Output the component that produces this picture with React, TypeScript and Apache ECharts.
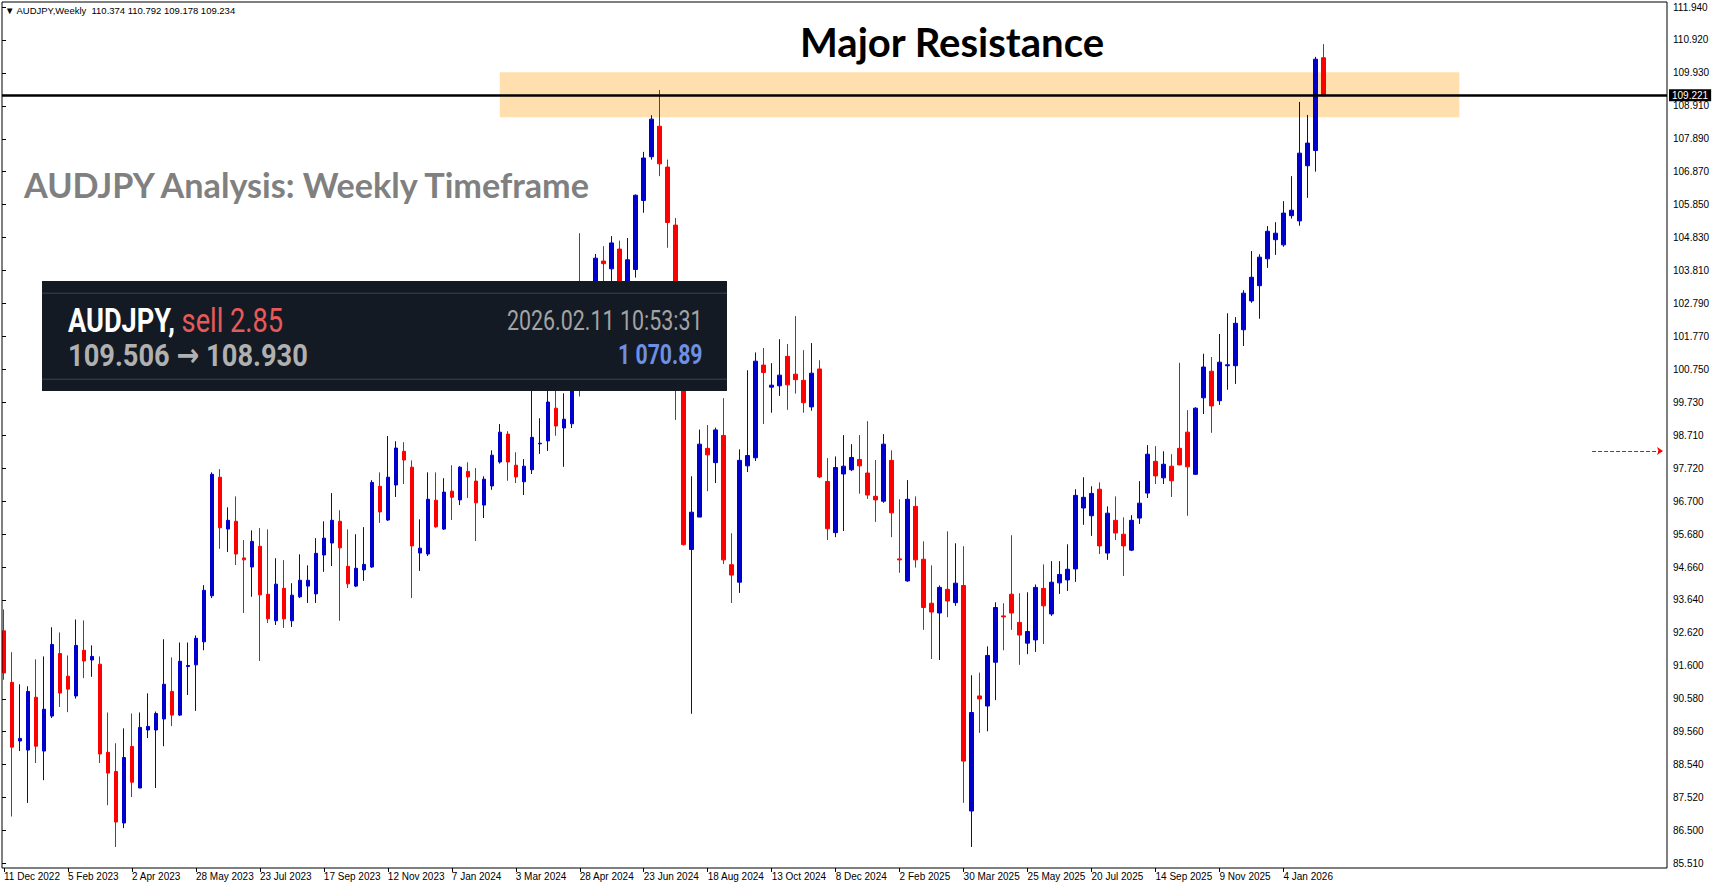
import React, { useEffect, useRef } from 'react';
import * as echarts from 'echarts';

// ---------------- DATA ----------------
const START_WEEK = Date.UTC(2022, 11, 11); // first bar: 11 Dec 2022
const TOTAL_SLOTS = 208; // bars + empty space on the right
const MONTHS = ['Jan', 'Feb', 'Mar', 'Apr', 'May', 'Jun', 'Jul', 'Aug', 'Sep', 'Oct', 'Nov', 'Dec'];

const opens = [
  92.69, 91.10, 89.29, 89.01, 90.64, 88.98, 90.06, 91.99, 91.29, 90.68,
  92.09, 91.79, 91.66, 88.94, 88.35, 86.76, 89.12, 87.84, 89.63, 89.63,
  89.97, 90.82, 90.09, 91.59, 91.64, 92.35, 93.77, 97.43, 95.83, 96.07,
  94.94, 94.66, 95.30, 93.82, 93.00, 94.00, 93.00, 93.74, 94.07, 93.83,
  95.03, 95.40, 96.07, 94.68, 94.07, 94.57, 94.66, 97.15, 96.11, 97.19,
  98.23, 97.74, 95.09, 95.06, 96.72, 95.83, 97.00, 96.73, 97.61, 97.31,
  96.57, 97.16, 97.90, 98.76, 97.80, 97.29, 97.66, 98.46, 98.55, 99.56,
  98.95, 99.08, 103.30, 101.00, 102.90, 104.10, 103.86, 104.47, 103.30, 103.84,
  105.97, 107.32, 108.26, 107.00, 105.21, 101.20, 95.20, 96.20, 98.32, 97.88,
  98.72, 94.73, 94.19, 97.78, 98.03, 100.89, 100.21, 100.25, 101.16, 100.61,
  100.42, 99.60, 100.77, 97.30, 95.72, 97.53, 97.66, 97.98, 97.56, 96.84,
  96.69, 97.95, 94.91, 94.23, 96.53, 94.90, 93.54, 93.24, 93.97, 93.56,
  94.09, 87.13, 90.68, 90.37, 91.72, 93.15, 93.82, 92.95, 92.31, 92.41,
  94.00, 93.21, 94.17, 94.26, 94.60, 96.48, 96.24, 97.06, 95.09, 96.10,
  95.67, 95.18, 96.17, 96.94, 97.92, 97.41, 97.77, 98.32, 98.82, 97.52,
  99.88, 100.70, 99.79, 100.87, 100.87, 101.98, 102.87, 103.34, 104.17, 104.76,
  104.60, 105.50, 105.34, 107.04, 107.51, 110.374,
];
const highs = [
  93.35, 92.03, 91.04, 90.98, 91.81, 91.90, 92.80, 92.64, 91.93, 93.04,
  93.01, 92.24, 91.90, 90.17, 89.22, 89.68, 90.14, 90.17, 90.76, 90.20,
  92.43, 91.87, 92.33, 92.33, 92.55, 94.10, 97.58, 97.68, 96.50, 96.84,
  95.49, 95.79, 95.86, 95.82, 94.93, 94.87, 94.16, 95.05, 94.71, 95.55,
  96.07, 96.94, 96.41, 95.82, 95.67, 95.89, 97.34, 97.58, 98.70, 98.54,
  98.51, 97.95, 96.13, 97.58, 97.58, 97.40, 97.80, 97.77, 97.89, 97.71,
  97.46, 98.26, 99.07, 98.85, 98.20, 97.99, 100.20, 99.25, 100.30, 100.90,
  100.02, 103.40, 104.96, 103.10, 104.32, 104.56, 104.87, 104.73, 104.81, 106.16,
  107.47, 108.60, 109.38, 107.23, 105.43, 101.60, 97.46, 98.90, 99.04, 98.96,
  99.87, 95.70, 98.29, 100.73, 101.28, 101.42, 100.95, 101.69, 101.54, 102.40,
  101.35, 101.57, 101.04, 98.02, 98.07, 98.73, 98.45, 98.73, 99.16, 97.96,
  98.76, 98.26, 96.75, 97.34, 96.84, 95.45, 94.71, 94.09, 95.76, 95.39,
  95.30, 91.32, 91.40, 92.21, 93.57, 93.54, 95.64, 93.85, 93.88, 94.12,
  94.74, 94.84, 94.84, 95.36, 97.06, 97.43, 97.15, 97.27, 96.53, 96.84,
  96.19, 96.26, 97.31, 98.42, 98.39, 98.23, 98.14, 100.96, 99.50, 99.59,
  101.24, 101.14, 101.85, 102.49, 102.37, 103.20, 104.41, 104.31, 105.18, 105.30,
  105.95, 106.72, 109.01, 108.61, 110.40, 110.792,
];
const lows = [
  91.18, 86.96, 88.98, 87.38, 88.61, 88.08, 90.00, 90.34, 90.18, 90.60,
  91.23, 91.27, 88.61, 87.31, 86.02, 86.60, 87.56, 87.84, 89.38, 87.84,
  89.13, 89.75, 90.06, 90.71, 90.22, 92.09, 93.70, 95.22, 95.12, 94.72,
  93.24, 93.74, 91.76, 92.93, 92.87, 92.78, 92.81, 93.70, 93.55, 93.55,
  94.51, 94.69, 93.00, 94.01, 94.04, 94.23, 94.63, 96.02, 96.08, 96.82,
  97.22, 93.70, 94.54, 95.00, 95.87, 95.80, 96.11, 96.57, 96.79, 95.46,
  96.17, 97.04, 97.85, 97.32, 97.25, 96.88, 97.53, 98.15, 98.24, 98.71,
  97.75, 98.95, 99.92, 100.90, 102.60, 103.30, 103.30, 102.50, 102.90, 103.59,
  105.59, 107.23, 106.72, 104.51, 99.20, 95.32, 90.13, 96.20, 97.00, 97.25,
  94.75, 93.55, 93.86, 97.59, 97.93, 99.07, 99.42, 99.94, 99.51, 100.01,
  99.42, 99.48, 97.40, 95.49, 95.58, 95.77, 97.62, 96.92, 96.76, 96.05,
  96.64, 95.58, 94.48, 94.20, 94.64, 92.72, 91.82, 91.79, 93.11, 93.46,
  87.38, 86.02, 89.54, 89.59, 90.55, 92.09, 92.72, 91.64, 91.97, 92.04,
  92.28, 93.15, 93.83, 93.92, 94.20, 95.96, 95.62, 95.06, 94.88, 95.49,
  94.38, 95.15, 95.99, 96.79, 97.22, 97.22, 96.82, 97.80, 96.24, 97.50,
  99.38, 98.80, 99.66, 100.13, 100.31, 101.48, 102.81, 102.32, 103.89, 104.29,
  104.54, 105.41, 105.19, 106.05, 106.86, 109.178,
];
const closes = [
  91.39, 89.10, 89.37, 90.82, 89.13, 90.27, 92.27, 90.77, 90.89, 92.24,
  91.76, 91.90, 88.89, 88.30, 86.79, 88.78, 88.02, 89.71, 89.74, 90.14,
  91.04, 90.09, 91.75, 91.62, 92.46, 93.94, 97.52, 95.87, 96.10, 95.06,
  94.88, 95.45, 93.80, 93.06, 94.13, 93.06, 93.79, 94.25, 94.25, 95.08,
  95.55, 96.10, 95.25, 94.14, 94.62, 94.74, 97.27, 96.36, 97.43, 98.33,
  97.96, 95.31, 95.24, 96.75, 95.90, 96.97, 96.81, 97.74, 97.44, 96.64,
  97.37, 98.11, 98.82, 97.90, 97.44, 97.77, 98.66, 98.48, 99.75, 99.01,
  99.22, 103.20, 100.80, 102.90, 104.19, 104.02, 104.66, 103.30, 104.14, 106.13,
  107.28, 108.48, 107.10, 105.29, 101.20, 95.35, 96.35, 98.45, 98.12, 98.89,
  94.88, 94.41, 97.95, 98.10, 101.01, 100.66, 100.27, 100.58, 100.28, 100.44,
  99.73, 100.64, 97.44, 95.84, 97.73, 97.77, 98.04, 97.78, 96.88, 96.73,
  98.45, 96.33, 94.88, 96.75, 94.88, 93.41, 93.27, 94.03, 93.61, 94.16,
  88.67, 90.17, 90.59, 91.93, 93.41, 93.12, 93.24, 92.56, 92.67, 94.03,
  93.46, 94.19, 94.43, 94.59, 96.87, 96.81, 96.93, 95.31, 96.32, 95.71,
  95.31, 96.10, 96.63, 98.14, 97.47, 97.83, 97.32, 97.81, 97.75, 99.56,
  100.83, 99.63, 100.98, 100.90, 102.18, 103.11, 103.60, 104.22, 105.02, 104.96,
  105.58, 105.67, 107.43, 107.74, 110.33, 109.234,
];

const yTickLabels = [
  '85.510', '86.500', '87.520', '88.540', '89.560', '90.580', '91.600', '92.620', '93.640',
  '94.660', '95.680', '96.700', '97.720', '98.710', '99.730', '100.750', '101.770', '102.790',
  '103.810', '104.830', '105.850', '106.870', '107.890', '108.910', '109.930', '110.920', '111.940',
];
const PRICE_AXIS_TOP = 111.94;
const PRICE_AXIS_BOTTOM = 85.51;

const headerText = '\u25BC AUDJPY,Weekly  110.374 110.792 109.178 109.234';
const currentPrice = 109.221;
const resistanceHigh = 109.93;
const resistanceLow = 108.54;
const resistanceFromIdx = 62;
const resistanceToIdx = 182;
const tradeLevel = 98.24;

const titleText = 'Major Resistance';
const subtitleText = 'AUDJPY Analysis: Weekly Timeframe';
const infoSymbol = 'AUDJPY,';
const infoSide = 'sell 2.85';
const infoTime = '2026.02.11 10:53:31';
const infoPrices = '109.506 \u2192 108.930';
const infoProfit = '1 070.89';

// ---------------- LAYOUT ----------------
const W = 1713;
const H = 888;
const PLOT_LEFT = 2;
const PLOT_RIGHT = 1667;
const PLOT_TOP = 2;
const PLOT_BOTTOM = 868;
const LABEL_TOP = 7;
const LABEL_BOTTOM = 863.5;
const BAR_STEP = 8;
const FIRST_BAR_X = 3.3;

const categories = Array.from({ length: TOTAL_SLOTS }, (_, i) => {
  const d = new Date(START_WEEK + i * 7 * 86400000);
  return `${d.getUTCDate()} ${MONTHS[d.getUTCMonth()]} ${d.getUTCFullYear()}`;
});

const measure = (text: string, font: string) => {
  const ctx = document.createElement('canvas').getContext('2d') as CanvasRenderingContext2D;
  ctx.font = font;
  return ctx.measureText(text).width;
};

export default function App() {
  const ref = useRef<HTMLDivElement>(null);

  useEffect(() => {
    document.body.style.margin = '0';
    if (!ref.current) return;
    const chart = echarts.init(ref.current, undefined, { renderer: 'svg' });

    const pxPerUnit = (LABEL_BOTTOM - LABEL_TOP) / (PRICE_AXIS_TOP - PRICE_AXIS_BOTTOM);
    const yMax = PRICE_AXIS_TOP + (LABEL_TOP - PLOT_TOP) / pxPerUnit;
    const yMin = PRICE_AXIS_BOTTOM - (PLOT_BOTTOM - LABEL_BOTTOM) / pxPerUnit;

    const candleLeft = FIRST_BAR_X - BAR_STEP / 2;
    const candleRight = candleLeft + BAR_STEP * TOTAL_SLOTS;

    const candleData = opens.map((o, i) => [o, closes[i], lows[i], highs[i]]);
    const lastBar = opens.length - 1;
    const showIdx = (idx: number) => idx % 8 === 0 && idx <= lastBar;

    const axisFont = 'Liberation Sans, Arial, sans-serif';

    // text fitting
    const titleFam = 'Lato, "Open Sans", sans-serif';
    const titleSize = 40 * 305 / measure(titleText, `bold 40px ${titleFam}`);
    const subSize = 35 * 570 / measure(subtitleText, `bold 35px ${titleFam}`);
    const headSize = 10 * 231 / measure(headerText, `10px ${axisFont}`);

    const boxFam = 'Roboto, "DejaVu Sans", sans-serif';
    const r1Size = 33;
    const wA = measure(infoSymbol, `bold ${r1Size}px ${boxFam}`);
    const wSp = measure(' ', `${r1Size}px ${boxFam}`);
    const wB = measure(infoSide, `${r1Size}px ${boxFam}`);
    const s1 = 215 / (wA + wSp + wB);
    const r2Size = 32;
    const s2 = 240 / measure(infoPrices, `bold ${r2Size}px ${boxFam}`);
    const tSize = 27;
    const s3 = 195.6 / measure(infoTime, `${tSize}px ${boxFam}`);
    const pSize = 27;
    const s4 = 84.5 / measure(infoProfit, `bold ${pSize}px ${boxFam}`);

    const option: any = {
      animation: false,
      backgroundColor: '#ffffff',
      grid: [
        { left: candleLeft, width: candleRight - candleLeft, top: PLOT_TOP, height: PLOT_BOTTOM - PLOT_TOP, show: false },
        {
          left: PLOT_LEFT, right: W - PLOT_RIGHT, top: PLOT_TOP, bottom: H - PLOT_BOTTOM,
          show: true, borderColor: '#000', borderWidth: 1, backgroundColor: 'rgba(0,0,0,0)', z: 60,
        },
        { left: PLOT_LEFT, right: W - PLOT_RIGHT, top: LABEL_TOP, bottom: H - LABEL_BOTTOM, show: false },
      ],
      xAxis: [
        {
          type: 'category', gridIndex: 0, data: categories, boundaryGap: true,
          axisLine: { show: false },
          axisTick: { show: true, alignWithLabel: true, interval: (i: number) => showIdx(i), length: 4, lineStyle: { color: '#000' } },
          axisLabel: {
            interval: (i: number) => showIdx(i), align: 'left', margin: 3, color: '#000',
            fontSize: 10, fontFamily: axisFont,
          },
          splitLine: { show: false },
        },
        { type: 'value', gridIndex: 1, min: 0, max: 1, show: false },
        { type: 'value', gridIndex: 2, min: 0, max: 1, show: false },
      ],
      yAxis: [
        { type: 'value', gridIndex: 0, min: yMin, max: yMax, show: false, splitLine: { show: false } },
        { type: 'value', gridIndex: 1, min: yMin, max: yMax, show: false, splitLine: { show: false } },
        {
          type: 'value', gridIndex: 2, min: 0, max: yTickLabels.length - 1, interval: 1, position: 'right',
          axisLine: { show: false },
          axisTick: { show: true, inside: false, length: 4, lineStyle: { color: '#000' } },
          axisLabel: {
            margin: 6, color: '#000', fontSize: 10, fontFamily: axisFont,
            formatter: (v: number) => yTickLabels[Math.round(v)] ?? '',
          },
          splitLine: { show: false },
        },
      ],
      series: [
        {
          type: 'candlestick', xAxisIndex: 0, yAxisIndex: 0, data: candleData, barWidth: 4,
          itemStyle: { color: '#0000CC', color0: '#FF0000', borderColor: '#0000CC', borderColor0: '#FF0000', borderWidth: 1 },
          markArea: {
            silent: true,
            itemStyle: { color: '#FFDFAE', opacity: 1 },
            data: [[
              { xAxis: categories[resistanceFromIdx], yAxis: resistanceHigh },
              { xAxis: categories[resistanceToIdx], yAxis: resistanceLow },
            ]],
          },
        },
        {
          type: 'line', xAxisIndex: 1, yAxisIndex: 1, data: [[0, currentPrice]], symbol: 'none',
          lineStyle: { opacity: 0 }, z: 5,
          markLine: {
            silent: true, animation: false, symbol: ['none', 'none'],
            data: [
              {
                yAxis: currentPrice,
                lineStyle: { color: '#000', width: 2.6, type: 'solid' },
                label: {
                  show: true, position: 'end', formatter: currentPrice.toFixed(3), distance: 2,
                  backgroundColor: '#000', color: '#fff', fontSize: 10, fontFamily: axisFont, padding: [1, 3, 1, 3],
                },
              },
              [
                { coord: [0.955, tradeLevel], symbol: 'none' },
                { coord: [0.9976, tradeLevel], symbol: 'arrow', symbolSize: 6 },
              ],
            ],
            lineStyle: { color: '#ff0000', width: 1, type: 'dashed' },
            label: { show: false },
          },
        },
      ],
      graphic: [
        { type: 'rect', z: 50, shape: { x: 0, y: 0, width: PLOT_LEFT, height: H }, style: { fill: '#fff' } },
        {
          type: 'text', z: 100, x: 5, y: 10,
          style: { text: headerText, fontSize: headSize, fontFamily: axisFont, fill: '#000', verticalAlign: 'middle', align: 'left' },
        },
        {
          type: 'text', z: 100, x: 952, y: 41,
          style: { text: titleText, fontSize: titleSize, fontWeight: 'bold', fontFamily: titleFam, fill: '#000', align: 'center', verticalAlign: 'middle' },
        },
        {
          type: 'text', z: 100, x: 24, y: 184,
          style: { text: subtitleText, fontSize: subSize, fontWeight: 'bold', fontFamily: titleFam, fill: '#808080', align: 'left', verticalAlign: 'middle' },
        },
        { type: 'rect', z: 100, shape: { x: 42, y: 281, width: 685, height: 110 }, style: { fill: '#131a23' } },
        { type: 'rect', z: 101, shape: { x: 42, y: 292.5, width: 685, height: 1.5 }, style: { fill: '#2d3643' } },
        { type: 'rect', z: 101, shape: { x: 42, y: 378.5, width: 685, height: 1.5 }, style: { fill: '#2d3643' } },
        {
          type: 'group', z: 102, x: 68, y: 321, scaleX: s1,
          children: [
            { type: 'text', z: 102, x: 0, y: 0, style: { text: infoSymbol, fontSize: r1Size, fontWeight: 'bold', fontFamily: boxFam, fill: '#ffffff', verticalAlign: 'middle', align: 'left' } },
            { type: 'text', z: 102, x: wA + wSp, y: 0, style: { text: infoSide, fontSize: r1Size, fontFamily: boxFam, fill: '#e85a5a', verticalAlign: 'middle', align: 'left' } },
          ],
        },
        {
          type: 'group', z: 102, x: 68, y: 355, scaleX: s2,
          children: [
            { type: 'text', z: 102, x: 0, y: 0, style: { text: infoPrices, fontSize: r2Size, fontWeight: 'bold', fontFamily: boxFam, fill: '#b0b0b0', verticalAlign: 'middle', align: 'left' } },
          ],
        },
        {
          type: 'group', z: 102, x: 702.5, y: 321, scaleX: s3,
          children: [
            { type: 'text', z: 102, x: 0, y: 0, style: { text: infoTime, fontSize: tSize, fontFamily: boxFam, fill: '#a3a3a3', verticalAlign: 'middle', align: 'right' } },
          ],
        },
        {
          type: 'group', z: 102, x: 702.5, y: 355, scaleX: s4,
          children: [
            { type: 'text', z: 102, x: 0, y: 0, style: { text: infoProfit, fontSize: pSize, fontWeight: 'bold', fontFamily: boxFam, fill: '#6e8fe6', verticalAlign: 'middle', align: 'right' } },
          ],
        },
      ],
    };

    chart.setOption(option);
    return () => chart.dispose();
  }, []);

  return <div ref={ref} style={{ width: W, height: H, background: '#fff' }} />;
}
